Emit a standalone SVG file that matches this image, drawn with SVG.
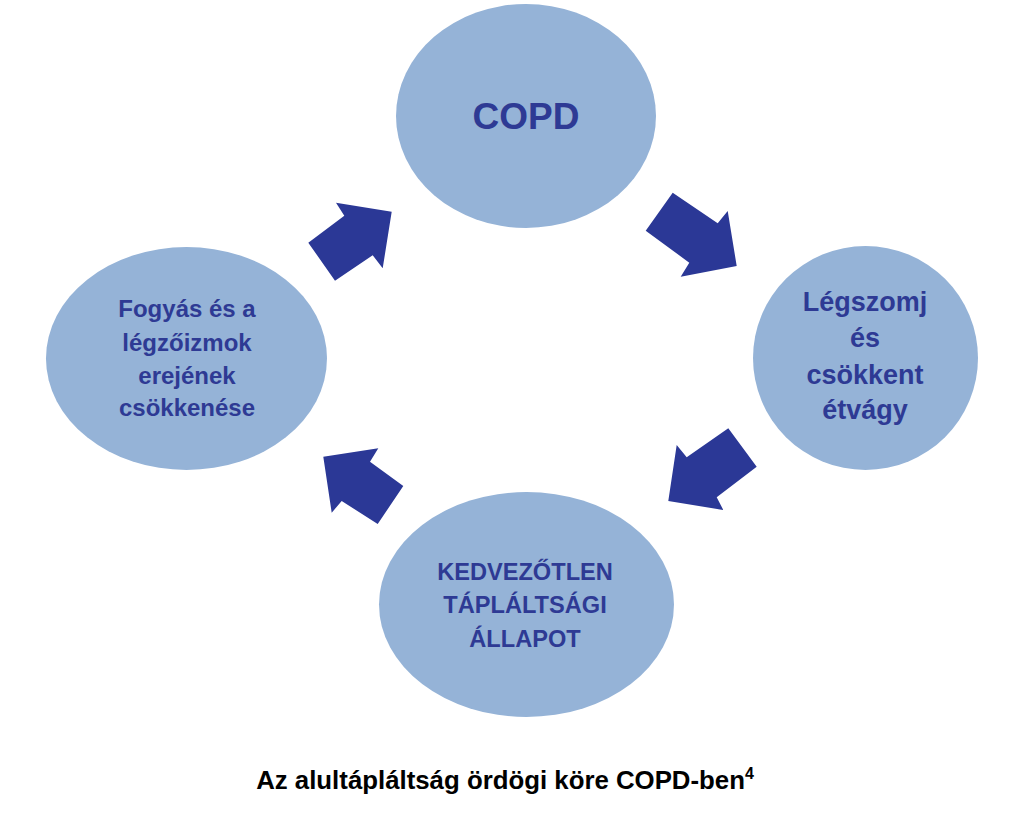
<svg xmlns="http://www.w3.org/2000/svg" width="1024" height="815" viewBox="0 0 1024 815">
<style>
.node{fill:#95B3D7}
.lbl{font-family:"Liberation Sans",Arial,sans-serif;font-weight:bold;fill:#2E3A94;text-anchor:middle}
.arr{fill:#2B3896}
.cap{font-family:"Liberation Sans",Arial,sans-serif;font-weight:bold;fill:#000;text-anchor:middle;font-size:25.8px}
</style>
<rect width="1024" height="815" fill="#fff"/>
<g id="connectors">
<polygon class="arr" points="672.7,192.7 645.7,230.7 689.3,262.7 680.7,276.7 736.7,266 727.7,211 717.7,223.3"/>
<polygon class="arr" points="728.3,428.3 756.7,466.7 716.7,497.3 723.3,510 668.3,501 676.7,445 686.7,457.3"/>
<polygon class="arr" points="403.3,486 377.7,524 341.7,501 331.7,512.7 323.3,456.7 378.3,448.3 370,461.7"/>
<polygon class="arr" points="308.3,242.7 335,280.7 372.7,255.3 382.7,268.3 391.7,211.7 336,202.7 344.3,215.7"/>
</g>
<g id="copd">
<ellipse class="node" cx="526" cy="116" rx="130" ry="112"/>
<text class="lbl" x="526" y="129" font-size="37">COPD</text>
</g>
<g id="legszomj">
<ellipse class="node" cx="865.5" cy="358" rx="112.5" ry="112"/>
<text class="lbl" font-size="27"><tspan x="865" y="311">Légszomj</tspan><tspan x="865" y="347">és</tspan><tspan x="865" y="384">csökkent</tspan><tspan x="865" y="419">étvágy</tspan></text>
</g>
<g id="kedvezotlen">
<ellipse class="node" cx="526.5" cy="604.5" rx="147.5" ry="112.5"/>
<text class="lbl" font-size="23.6"><tspan x="525" y="580">KEDVEZŐTLEN</tspan><tspan x="525" y="613">TÁPLÁLTSÁGI</tspan><tspan x="525" y="647">ÁLLAPOT</tspan></text>
</g>
<g id="fogyas">
<ellipse class="node" cx="186.5" cy="358.5" rx="140.5" ry="111.5"/>
<text class="lbl" font-size="24"><tspan x="187" y="317">Fogyás és a</tspan><tspan x="187" y="351">légzőizmok</tspan><tspan x="187" y="384">erejének</tspan><tspan x="187" y="416">csökkenése</tspan></text>
</g>
<text class="cap" x="505" y="789">Az alultápláltság ördögi köre COPD-ben<tspan font-size="16" dy="-10">4</tspan></text>
</svg>
